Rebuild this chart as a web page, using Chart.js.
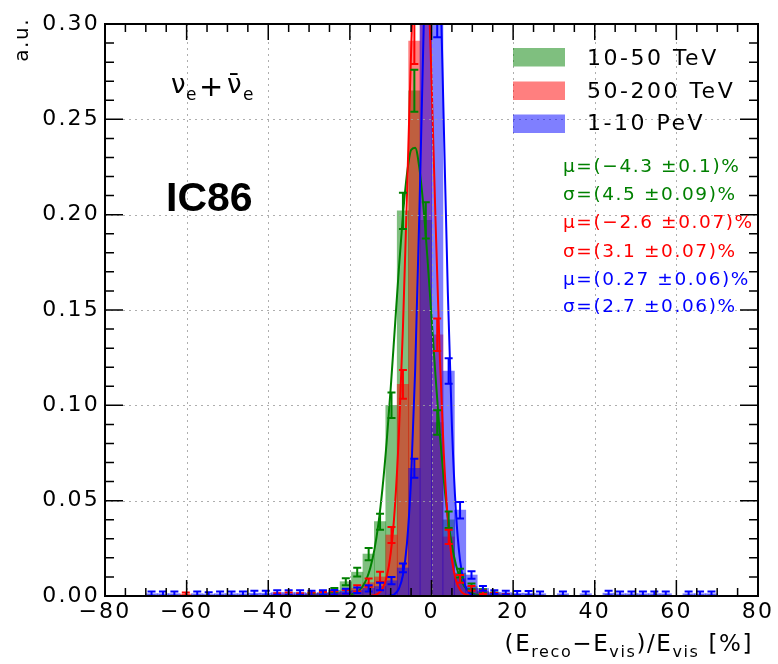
<!DOCTYPE html>
<html>
<head>
<meta charset="utf-8">
<script src="https://cdn.jsdelivr.net/npm/chart.js@4.4.1/dist/chart.umd.min.js"></script>
<style>
html,body{margin:0;padding:0;background:#fff;}
#wrap{width:778px;height:664px;position:relative;}
</style>
</head>
<body>
<div id="wrap"><canvas id="c" width="778" height="664"></canvas></div>
<script>
// ---- data ----
const binCenters = [-68.6,-65.8,-63.0,-60.2,-57.4,-54.6,-51.8,-49.0,-46.2,-43.4,-40.6,-37.8,-35.0,-32.2,-29.4,-26.6,-23.8,-21.0,-18.2,-15.4,-12.6,-9.8,-7.0,-4.2,-1.4,1.4,4.2,7.0,9.8,12.6,15.4,18.2,21.0,23.8,26.6,29.4,32.2,35.0,37.8,40.6,43.4,46.2,49.0,51.8,54.6,57.4,60.2,63.0,65.8,68.6];

const green = [0,0,0,0,0,0,0,0,0,0,0,0,0,0,
  0.001,0.0015,0.003,0.0075,0.0125,0.022,0.039,0.100,0.202,0.265,0.197,0.091,0.040,0.012,0.005,0.0025,0.0012,0.0006,
  0,0,0,0,0,0,0,0,0,0,0,0,0,0,0,0,0,0];
const greenErr = [0,0,0,0,0,0,0,0,0,0,0,0,0,0,
  0.0006,0.0008,0.0012,0.0018,0.0023,0.0032,0.0042,0.0067,0.0095,0.011,0.0095,0.0064,0.0043,0.0023,0.0015,0.001,0.0007,0.0005,
  0,0,0,0,0,0,0,0,0,0,0,0,0,0,0,0,0,0];

const red = [0,0,0,0.001,0,0,0,0,0,0,0,
  0.0008,0.001,0.0008,0.001,0.0012,0.0015,0.002,0.004,0.007,0.010,0.032,0.111,0.291,0.37,0.137,0.031,0.009,0.004,0.002,0.001,0.0005,
  0,0,0,0,0,0,0,0,0,0,0,0,0,0,0,0,0,0];
const redErr = [0,0,0,0.0008,0,0,0,0,0,0,0,
  0.0007,0.0008,0.0007,0.0008,0.0009,0.001,0.0012,0.0017,0.0022,0.0027,0.0042,0.0075,0.012,0.014,0.0085,0.0037,0.002,0.0013,0.0009,0.0006,0.0005,
  0,0,0,0,0,0,0,0,0,0,0,0,0,0,0,0,0,0];

const blue = [0.0012,0.0012,0.0012,0,0.0012,0.001,0.0012,0.0012,0.0012,0.0015,0.0015,0.0018,0.0018,0.0018,0.0015,
  0.0018,0.002,0.0025,0.003,0.004,0.005,0.008,0.0147,0.067,0.36,0.308,0.118,0.045,0.011,0.004,0.002,0.0018,
  0.0015,0.0015,0.0012,0,0.0012,0,0.0012,0,0.0015,0.0012,0.0012,0.0012,0.0012,0.0012,0,0.0012,0.0012,0.0012];
const blueErr = [0.0011,0.0011,0.0011,0,0.0011,0.001,0.0011,0.0011,0.0011,0.0012,0.0012,0.0012,0.0012,0.0012,0.0012,
  0.0012,0.0012,0.0013,0.0014,0.0017,0.002,0.0019,0.0023,0.005,0.016,0.015,0.0067,0.0043,0.002,0.0012,0.001,0.001,
  0.0011,0.0011,0.0011,0,0.0011,0,0.0011,0,0.0012,0.0011,0.0011,0.0011,0.0011,0.0011,0,0.0011,0.0011,0.0011];

// fitted curves, sampled by eye
const fitGreenX = [-24,-22,-20,-18,-17,-16,-15,-14,-13,-12,-11,-10,-9,-8,-7,-6,-5,-4,-3,-2,-1,0,1,2,3,4,5,6,7,8,9,10,12,14];
const fitGreenY = [0,0.0001,0.0006,0.0025,0.0047,0.0085,0.0147,0.0242,0.038,0.0567,0.0805,0.1089,0.140,0.1714,0.1997,0.2215,0.2339,0.2351,0.2249,0.2047,0.1774,0.1463,0.1149,0.0858,0.0611,0.0413,0.0266,0.0163,0.0095,0.0053,0.0028,0.0014,0.0003,0];
const fitRedX = [-18,-16,-14,-13,-12,-11,-10,-9,-8,-7,-6,-5,-4,-3,-2,-1,0,1,2,3,4,5,6,7,8,10,12];
const fitRedY = [0,0,0.0004,0.0014,0.0039,0.0098,0.0223,0.0457,0.0844,0.1406,0.211,0.2853,0.3477,0.3818,0.3778,0.337,0.2708,0.1962,0.128,0.0753,0.0399,0.0191,0.0082,0.0032,0.0011,0.0001,0];
const fitBlueX = [-14,-12,-10,-9,-8,-7,-6,-5,-4,-3,-2,-1,0,1,2,3,4,5,6,7,8,9,10,12,14];
const fitBlueY = [0,0,0.0003,0.0011,0.0038,0.011,0.0279,0.0616,0.1185,0.1988,0.2907,0.3707,0.4119,0.3991,0.3372,0.2483,0.1594,0.0893,0.0436,0.0185,0.0069,0.0022,0.0006,0,0];

const seriesLabels = ['10-50 TeV','50-200 TeV','1-10 PeV'];
const statLines = ['\u03bc=(\u22124.3 \u00b10.1)%','\u03c3=(4.5 \u00b10.09)%','\u03bc=(\u22122.6 \u00b10.07)%','\u03c3=(3.1 \u00b10.07)%','\u03bc=(0.27 \u00b10.06)%','\u03c3=(2.7 \u00b10.06)%'];

// ---- styling ----
const COLS = ['rgb(0,128,0)','rgb(255,0,0)','rgb(0,0,255)'];
const FILLS = ['rgba(0,128,0,0.5)','rgba(255,0,0,0.5)','rgba(0,0,255,0.5)'];
const FONT = '"DejaVu Sans", Verdana, sans-serif';

const pts = (xs, ys) => xs.map((x, i) => ({x: x, y: ys[i]}));

const hists = [
  {vals: green, errs: greenErr, color: COLS[0]},
  {vals: red, errs: redErr, color: COLS[1]},
  {vals: blue, errs: blueErr, color: COLS[2]}
];

function barDs(i, vals, order){
  return {type:'bar', label: seriesLabels[i], data: pts(binCenters, vals), backgroundColor: FILLS[i],
    borderWidth: 0, grouped: false, barPercentage: 1, categoryPercentage: 1, order: order, clip: 0};
}
function lineDs(i, xs, ys, order){
  return {type:'line', label: 'fit '+seriesLabels[i], data: pts(xs, ys), borderColor: COLS[i], borderWidth: 2,
    pointRadius: 0, fill: false, cubicInterpolationMode: 'monotone', order: order, clip: 0};
}

const overlay = {
  id: 'overlay',
  beforeDraw(chart){ chart.ctx.letterSpacing = '2.2px'; },
  afterDatasetsDraw(chart){
    const ctx = chart.ctx, a = chart.chartArea, xs = chart.scales.x, ys = chart.scales.y;
    ctx.save();
    ctx.letterSpacing = '0px';
    // grid (dotted, on top of bars as in the reference)
    ctx.strokeStyle = 'rgba(160,160,160,0.85)';
    ctx.lineWidth = 1;
    ctx.setLineDash([2,4]);
    for (let v = -60; v <= 60; v += 20){
      const px = Math.round(xs.getPixelForValue(v)) + 0.5;
      ctx.beginPath(); ctx.moveTo(px, a.top); ctx.lineTo(px, a.bottom); ctx.stroke();
    }
    for (let k = 1; k <= 5; k++){
      const py = Math.round(ys.getPixelForValue(k*0.05)) + 0.5;
      ctx.beginPath(); ctx.moveTo(a.left, py); ctx.lineTo(a.right, py); ctx.stroke();
    }
    ctx.setLineDash([]);
    // error bars
    ctx.beginPath(); ctx.rect(a.left, a.top, a.right - a.left, a.bottom - a.top); ctx.clip();
    hists.forEach(h => {
      ctx.strokeStyle = h.color; ctx.lineWidth = 2;
      h.vals.forEach((v, i) => {
        const e = h.errs[i];
        if (!(v > 0) || !(e > 0)) return;
        const px = xs.getPixelForValue(binCenters[i]);
        const y1 = ys.getPixelForValue(v - e), y2 = ys.getPixelForValue(v + e);
        ctx.beginPath();
        ctx.moveTo(px, y1); ctx.lineTo(px, y2);
        ctx.moveTo(px - 4, y1); ctx.lineTo(px + 4, y1);
        ctx.moveTo(px - 4, y2); ctx.lineTo(px + 4, y2);
        ctx.stroke();
      });
    });
    ctx.restore();

    // frame and inward ticks
    ctx.save();
    ctx.strokeStyle = '#000';
    ctx.lineWidth = 1.5;
    for (let v = -80; v <= 80; v += 5){
      const px = xs.getPixelForValue(v);
      const len = (v % 20 === 0) ? 16 : 8;
      ctx.beginPath();
      ctx.moveTo(px, a.bottom); ctx.lineTo(px, a.bottom - len);
      ctx.moveTo(px, a.top); ctx.lineTo(px, a.top + len);
      ctx.stroke();
    }
    for (let k = 0; k <= 30; k++){
      const py = ys.getPixelForValue(k*0.01);
      const len = (k % 5 === 0) ? 18 : 9;
      ctx.beginPath();
      ctx.moveTo(a.left, py); ctx.lineTo(a.left + len, py);
      ctx.moveTo(a.right, py); ctx.lineTo(a.right - len, py);
      ctx.stroke();
    }
    ctx.lineWidth = 2;
    ctx.strokeRect(a.left, a.top, a.right - a.left, a.bottom - a.top);
    ctx.restore();
  },
  afterDraw(chart){
    const ctx = chart.ctx;
    ctx.save();
    ctx.fillStyle = '#000';
    // legend
    const boxY = [48, 81.5, 114.5];
    const txtY = [59, 92, 124.5];
    for (let i = 0; i < 3; i++){
      ctx.fillStyle = FILLS[i];
      ctx.fillRect(513, boxY[i], 52, 18.5);
      ctx.fillStyle = '#000';
      ctx.letterSpacing = '2.5px';
      ctx.font = '22px ' + FONT;
      ctx.textBaseline = 'middle';
      ctx.textAlign = 'left';
      ctx.fillText(seriesLabels[i], 587, txtY[i]);
    }
    // fit results
    const statY = [167, 195, 223.5, 252, 280, 307.5];
    ctx.font = '18.5px ' + FONT;
    ctx.letterSpacing = '1.6px';
    statLines.forEach((s, k) => {
      ctx.fillStyle = COLS[Math.floor(k/2)];
      ctx.fillText(s, 563, statY[k]);
    });
    // nu_e + anti-nu_e
    ctx.fillStyle = '#000';
    ctx.letterSpacing = '0px';
    ctx.textBaseline = 'alphabetic';
    ctx.font = '26px ' + FONT;
    ctx.fillText('\u03bd', 171, 93);
    ctx.font = '17px ' + FONT;
    ctx.fillText('e', 186, 100);
    ctx.font = '29px ' + FONT;
    ctx.fillText('+', 199, 96);
    ctx.font = '26px ' + FONT;
    ctx.fillText('\u03bd\u0304', 227, 93);
    ctx.font = '17px ' + FONT;
    ctx.fillText('e', 243, 100);
    // IC86
    ctx.font = 'bold 41px "Liberation Sans", Arial, sans-serif';
    ctx.fillText('IC86', 166, 211);
    // y title
    ctx.save();
    ctx.font = '20px ' + FONT;
    ctx.letterSpacing = '1.5px';
    ctx.translate(28, 18);
    ctx.rotate(-Math.PI/2);
    ctx.textAlign = 'right';
    ctx.fillText('a.u.', 0, 0);
    ctx.restore();
    // x title with subscripts
    const parts = [['(E', 23, 0], ['reco', 16, 6], ['\u2212E', 23, 0], ['vis', 16, 6], [')/E', 23, 0], ['vis', 16, 6], [' [%]', 23, 0]];
    ctx.letterSpacing = '1.6px';
    let total = 0;
    parts.forEach(p => { ctx.font = p[1] + 'px ' + FONT; total += ctx.measureText(p[0]).width; });
    let xp = 753 - total;
    parts.forEach(p => { ctx.font = p[1] + 'px ' + FONT; ctx.fillText(p[0], xp, 651 + p[2]); xp += ctx.measureText(p[0]).width; });
    ctx.restore();
  }
};

new Chart(document.getElementById('c'), {
  type: 'bar',
  data: {
    datasets: [
      lineDs(2, fitBlueX, fitBlueY, 1),
      lineDs(1, fitRedX, fitRedY, 2),
      lineDs(0, fitGreenX, fitGreenY, 3),
      barDs(2, blue, 8),
      barDs(1, red, 9),
      barDs(0, green, 10)
    ]
  },
  options: {
    responsive: false,
    animation: false,
    devicePixelRatio: 1,
    layout: {padding: {top: 24, right: 20, left: 0, bottom: 0}},
    plugins: {legend: {display: false}, tooltip: {enabled: false}},
    scales: {
      x: {
        type: 'linear', min: -80, max: 80, offset: false,
        grid: {display: false, drawTicks: false, offset: false},
        border: {display: false},
        afterFit: s => { s.height = 68; },
        ticks: {stepSize: 20, autoSkip: false, maxRotation: 0, padding: 3, color: '#000',
          font: {family: FONT, size: 22},
          callback: v => (v < 0 ? '\u2212' + Math.abs(v) : String(v))}
      },
      y: {
        type: 'linear', min: 0, max: 0.3,
        grid: {display: false, drawTicks: false},
        border: {display: false},
        afterFit: s => { s.width = 105; },
        ticks: {stepSize: 0.05, padding: 5, color: '#000',
          font: {family: FONT, size: 22},
          callback: v => Number(v).toFixed(2)}
      }
    }
  },
  plugins: [overlay]
});
</script>
</body>
</html>
